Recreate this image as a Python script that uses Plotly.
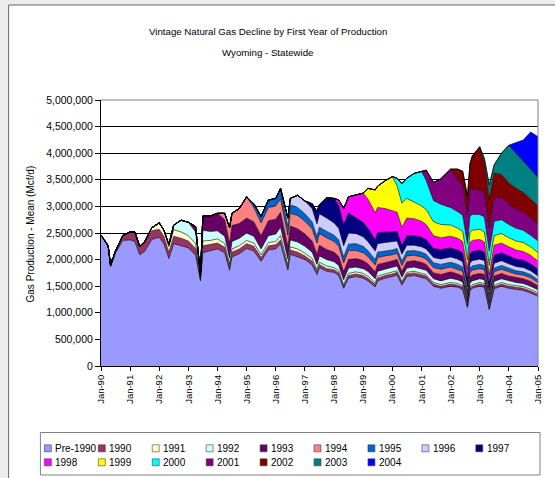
import plotly.graph_objects as go

# ---------------- data (MMcf/d) ----------------
DATES = ["1990-01", "1990-04", "1990-05", "1990-07", "1990-10", "1991-01", "1991-03", "1991-05", "1991-07", "1991-10",
         "1992-01", "1992-03", "1992-05", "1992-07", "1992-10", "1993-01", "1993-04", "1993-06", "1993-07", "1993-10",
         "1994-01", "1994-04", "1994-06", "1994-07", "1994-10", "1995-01", "1995-04", "1995-07", "1995-10", "1996-01",
         "1996-03", "1996-06", "1996-07", "1996-10", "1997-01", "1997-04", "1997-06", "1997-07", "1997-10", "1998-01",
         "1998-03", "1998-05", "1998-07", "1998-10", "1999-01", "1999-03", "1999-06", "1999-07", "1999-10", "2000-01",
         "2000-03", "2000-05", "2000-07", "2000-10", "2001-01", "2001-03", "2001-06", "2001-09", "2002-01", "2002-04",
         "2002-06", "2002-08", "2002-09", "2002-10", "2003-01", "2003-03", "2003-05", "2003-07", "2003-10", "2004-01",
         "2004-04", "2004-07", "2004-10", "2005-01"]

PRE_1990 = [2.46, 2.24, 1.87, 2.12, 2.36, 2.37, 2.34, 2.09, 2.15, 2.38,
            2.42, 2.29, 2.02, 2.30, 2.26, 2.22, 2.08, 1.60, 2.13, 2.16,
            2.20, 2.13, 1.80, 2.05, 2.11, 2.21, 2.16, 1.97, 2.18, 2.20,
            2.30, 1.80, 2.10, 2.05, 2.00, 1.90, 1.72, 1.85, 1.78, 1.76,
            1.70, 1.46, 1.65, 1.68, 1.65, 1.60, 1.49, 1.60, 1.65, 1.68,
            1.71, 1.52, 1.68, 1.70, 1.67, 1.64, 1.50, 1.46, 1.50, 1.48,
            1.44, 1.10, 1.42, 1.46, 1.50, 1.48, 1.06, 1.45, 1.50, 1.46,
            1.44, 1.42, 1.37, 1.31]
V1990 = [0.00, 0.02, 0.02, 0.04, 0.09, 0.15, 0.17, 0.15, 0.16, 0.16,
         0.15, 0.14, 0.12, 0.14, 0.14, 0.13, 0.13, 0.03, 0.13, 0.12,
         0.11, 0.10, 0.07, 0.09, 0.09, 0.09, 0.09, 0.07, 0.08, 0.08,
         0.07, 0.05, 0.08, 0.09, 0.07, 0.07, 0.05, 0.06, 0.05, 0.05,
         0.05, 0.04, 0.05, 0.05, 0.05, 0.05, 0.04, 0.05, 0.05, 0.05,
         0.05, 0.04, 0.05, 0.05, 0.05, 0.05, 0.04, 0.04, 0.04, 0.04,
         0.04, 0.02, 0.04, 0.04, 0.04, 0.04, 0.02, 0.04, 0.04, 0.04,
         0.04, 0.04, 0.04, 0.04]
V1991 = [0.00, 0.01, 0.01, 0.02, 0.06,
         0.12, 0.11, 0.10, 0.12, 0.12, 0.10, 0.09, 0.02, 0.09, 0.08,
         0.08, 0.07, 0.05, 0.06, 0.06, 0.06, 0.06, 0.05, 0.06, 0.06,
         0.08, 0.05, 0.06, 0.06, 0.05, 0.05, 0.04, 0.04, 0.05, 0.04,
         0.04, 0.03, 0.04, 0.04, 0.04, 0.04, 0.03, 0.04, 0.03, 0.03,
         0.03, 0.03, 0.03, 0.03, 0.03, 0.03, 0.03, 0.03, 0.03, 0.03,
         0.03, 0.02, 0.03, 0.03, 0.03, 0.03, 0.02, 0.03, 0.03, 0.03,
         0.03, 0.03, 0.03, 0.03]
V1992 = [0.00, 0.01, 0.04, 0.09, 0.22, 0.25, 0.22, 0.04, 0.20, 0.17,
         0.15, 0.14, 0.11, 0.14, 0.14, 0.14, 0.13, 0.11, 0.13, 0.14,
         0.16, 0.11, 0.13, 0.13, 0.13, 0.12, 0.10, 0.12, 0.12, 0.11,
         0.10, 0.09, 0.10, 0.09, 0.09, 0.09, 0.08, 0.09, 0.09, 0.09,
         0.09, 0.08, 0.08, 0.08, 0.08, 0.08, 0.07, 0.07, 0.08, 0.07,
         0.07, 0.05, 0.07, 0.07, 0.07, 0.07, 0.05, 0.07, 0.07, 0.07,
         0.06, 0.06, 0.06, 0.05]
V1993 = [0.00, 0.10, 0.03, 0.27, 0.29,
         0.33, 0.31, 0.27, 0.30, 0.28, 0.28, 0.27, 0.25, 0.28, 0.28,
         0.28, 0.23, 0.26, 0.25, 0.23, 0.21, 0.19, 0.20, 0.19, 0.18,
         0.17, 0.15, 0.16, 0.16, 0.15, 0.14, 0.13, 0.13, 0.12, 0.12,
         0.12, 0.11, 0.12, 0.12, 0.12, 0.11, 0.11, 0.12, 0.12, 0.11,
         0.11, 0.08, 0.11, 0.11, 0.10, 0.10, 0.07, 0.10, 0.10, 0.09,
         0.09, 0.09, 0.09, 0.08]
V1994 = [0.00, 0.12, 0.30, 0.23, 0.28, 0.40, 0.27, 0.24, 0.25, 0.25,
         0.25, 0.22, 0.24, 0.25, 0.24, 0.23, 0.21, 0.22, 0.22, 0.20,
         0.19, 0.17, 0.17, 0.15, 0.15, 0.14, 0.13, 0.13, 0.13, 0.12,
         0.12, 0.11, 0.11, 0.10, 0.10, 0.10, 0.10, 0.10, 0.09, 0.09,
         0.09, 0.07, 0.09, 0.09, 0.09, 0.09, 0.07, 0.08, 0.08, 0.08,
         0.07, 0.07, 0.07, 0.06]
V1995 = [0.00, 0.07, 0.12, 0.14, 0.14,
         0.19, 0.16, 0.16, 0.15, 0.14, 0.13, 0.12, 0.12, 0.12, 0.12,
         0.12, 0.11, 0.12, 0.13, 0.12, 0.11, 0.10, 0.10, 0.09, 0.09,
         0.09, 0.08, 0.09, 0.09, 0.09, 0.09, 0.09, 0.09, 0.09, 0.09,
         0.08, 0.07, 0.08, 0.08, 0.08, 0.08, 0.06, 0.07, 0.07, 0.07,
         0.06, 0.06, 0.06, 0.05]
V1996 = [0.00,
         0.01, 0.16, 0.12, 0.23, 0.24, 0.25, 0.24, 0.25, 0.25, 0.23,
         0.22, 0.21, 0.21, 0.19, 0.18, 0.17, 0.16, 0.16, 0.16, 0.15,
         0.14, 0.13, 0.11, 0.10, 0.10, 0.10, 0.10, 0.10, 0.10, 0.10,
         0.10, 0.08, 0.10, 0.10, 0.10, 0.09, 0.07, 0.09, 0.09, 0.08,
         0.08, 0.08, 0.07, 0.07]
V1997 = [0.00, 0.09, 0.23, 0.17, 0.38, 0.46,
         0.43, 0.40, 0.38, 0.30, 0.27, 0.25, 0.22, 0.21, 0.19, 0.19,
         0.18, 0.17, 0.18, 0.18, 0.18, 0.18, 0.17, 0.18, 0.17, 0.17,
         0.17, 0.14, 0.17, 0.17, 0.17, 0.16, 0.13, 0.15, 0.15, 0.15,
         0.14, 0.14, 0.13, 0.13]
V1998 = [0.00,
         0.10, 0.30, 0.30, 0.43, 0.55, 0.55, 0.50, 0.47, 0.45, 0.40,
         0.36, 0.34, 0.33, 0.32, 0.30, 0.28, 0.24, 0.22, 0.22, 0.22,
         0.21, 0.19, 0.21, 0.21, 0.20, 0.19, 0.17, 0.19, 0.18, 0.17,
         0.17, 0.16, 0.16, 0.15]
V1999 = [0.00, 0.20, 0.43, 0.40, 0.52, 0.64,
         0.50, 0.45, 0.37, 0.31, 0.29, 0.28, 0.26, 0.25, 0.21, 0.19,
         0.19, 0.18, 0.19, 0.19, 0.19, 0.19, 0.17, 0.18, 0.18, 0.17,
         0.17, 0.17, 0.16, 0.16]
V2000 = [0.00,
         0.14, 0.37, 0.38, 0.54, 0.65, 0.55, 0.40, 0.38, 0.33, 0.31,
         0.31, 0.30, 0.31, 0.30, 0.28, 0.28, 0.27, 0.27, 0.26, 0.25,
         0.24, 0.23, 0.22, 0.22]
V2001 = [0.00, 0.19, 0.34, 0.48, 0.72, 0.60,
         0.55, 0.55, 0.50, 0.48, 0.46, 0.45, 0.44, 0.44, 0.42, 0.38,
         0.36, 0.34, 0.32, 0.31]
V2002 = [0.00, 0.20,
         0.27, 0.33, 0.48, 0.62, 0.81, 0.58, 0.55, 0.47, 0.43, 0.40,
         0.39, 0.37, 0.36, 0.35]
V2003 = [0.00, 0.07, 0.25, 0.15, 0.40, 0.71,
         0.66, 0.60, 0.56, 0.53]
V2004 = [0.00, 0.20, 0.39, 0.70, 0.77]

NAMES = ["Pre-1990", "1990", "1991", "1992", "1993", "1994", "1995", "1996",
         "1997", "1998", "1999", "2000", "2001", "2002", "2003", "2004"]
VALUES = [PRE_1990, V1990, V1991, V1992, V1993, V1994, V1995, V1996,
          V1997, V1998, V1999, V2000, V2001, V2002, V2003, V2004]
COLORS = ["#9999FF", "#993366", "#FFFFCC", "#CCFFFF", "#660066", "#FF8080",
          "#0066CC", "#CCCCFF", "#000080", "#FF00FF", "#FFFF00", "#00FFFF",
          "#800080", "#800000", "#008080", "#0000FF"]

TITLE1 = "Vintage Natural Gas Decline by First Year of Production"
TITLE2 = "Wyoming - Statewide"
YTITLE = "Gas Production - Mean (Mcf/d)"

# ---------------- layout helpers ----------------
W, H = 555, 478
PL, PR, PT, PB = 101, 541, 100, 366          # plot area in pixels
FONT = "Liberation Sans, Arial, sans-serif"
BG = "#ECECEC"


def px(x):
    return (x - PL) / (PR - PL)


def py(y):
    return (PB - y) / (PB - PT)


fig = go.Figure()
for name, vals, color in zip(NAMES, VALUES, COLORS):
    start = len(DATES) - len(vals)
    fig.add_trace(go.Scatter(
        x=DATES[start:], y=[v * 1e6 for v in vals], name=name,
        mode="lines", stackgroup="one",
        line=dict(color="#000000", width=0.6),
        fillcolor=color, showlegend=False,
    ))

shapes = [
    # chart-area frame
    dict(type="rect", xref="paper", yref="paper", x0=px(8), x1=px(620),
         y0=py(5), y1=py(560), fillcolor="white",
         line=dict(color="#666666", width=1), layer="below"),
    # plot area top / right border (grey)
    dict(type="line", xref="paper", yref="paper", x0=0, x1=1, y0=1, y1=1,
         line=dict(color="#808080", width=1)),
    dict(type="line", xref="paper", yref="paper", x0=1, x1=1, y0=0, y1=1,
         line=dict(color="#808080", width=1)),
    # legend box
    dict(type="rect", xref="paper", yref="paper", x0=px(40), x1=px(543),
         y0=py(475), y1=py(432.5), fillcolor="white",
         line=dict(color="#808080", width=1)),
]
annotations = [
    dict(text=TITLE1, xref="paper", yref="paper", x=px(269), y=py(31),
         showarrow=False, xanchor="center", yanchor="middle",
         font=dict(family=FONT, size=9.7, color="black")),
    dict(text=TITLE2, xref="paper", yref="paper", x=px(269), y=py(52),
         showarrow=False, xanchor="center", yanchor="middle",
         font=dict(family=FONT, size=9.7, color="black")),
    dict(text=YTITLE, xref="paper", yref="paper", x=px(30), y=py(234),
         showarrow=False, xanchor="center", yanchor="middle", textangle=-90,
         font=dict(family=FONT, size=10, color="black")),
]

# legend (two rows, 9 entries per row)
for i, (name, color) in enumerate(zip(NAMES, COLORS)):
    row, col = divmod(i, 9)
    x0 = 44 + col * 54.3
    yc = 448.3 + row * 14
    shapes.append(dict(type="rect", xref="paper", yref="paper",
                       x0=px(x0), x1=px(x0 + 7), y0=py(yc + 3.5), y1=py(yc - 3.5),
                       fillcolor=color, line=dict(color="#404040", width=0.6)))
    annotations.append(dict(text=name, xref="paper", yref="paper",
                            x=px(x0 + 9), y=py(yc), showarrow=False,
                            xanchor="left", yanchor="middle",
                            font=dict(family=FONT, size=10, color="black")))

fig.update_layout(
    width=W, height=H,
    margin=dict(l=PL, r=W - PR, t=PT, b=H - PB, pad=0),
    paper_bgcolor=BG, plot_bgcolor="white",
    font=dict(family=FONT, size=10, color="black"),
    showlegend=False,
    shapes=shapes, annotations=annotations,
    xaxis=dict(type="date", range=["1990-01-01", "2005-01-01"],
               tick0="1990-01-01", dtick="M12", tickformat="%b-%y",
               tickangle=-90, ticks="outside", ticklen=4, tickcolor="black",
               showline=True, linecolor="black", linewidth=1,
               showgrid=False, zeroline=False,
               tickfont=dict(family=FONT, size=9.5, color="black")),
    yaxis=dict(range=[0, 5e6], dtick=5e5, tickformat=",d",
               ticks="outside", ticklen=5, tickcolor="black",
               showline=True, linecolor="black", linewidth=1,
               showgrid=True, gridcolor="black", gridwidth=1, zeroline=False,
               tickfont=dict(family=FONT, size=10.5, color="black")),
)

# remove the browser's default 8px page margin so the figure sits at (0, 0)
fig.write_html(
    "out.html",
    config={"displayModeBar": False},
    post_script="document.body.style.margin='0';document.body.style.overflow='hidden';"
                "document.body.style.background='" + BG + "';",
)
